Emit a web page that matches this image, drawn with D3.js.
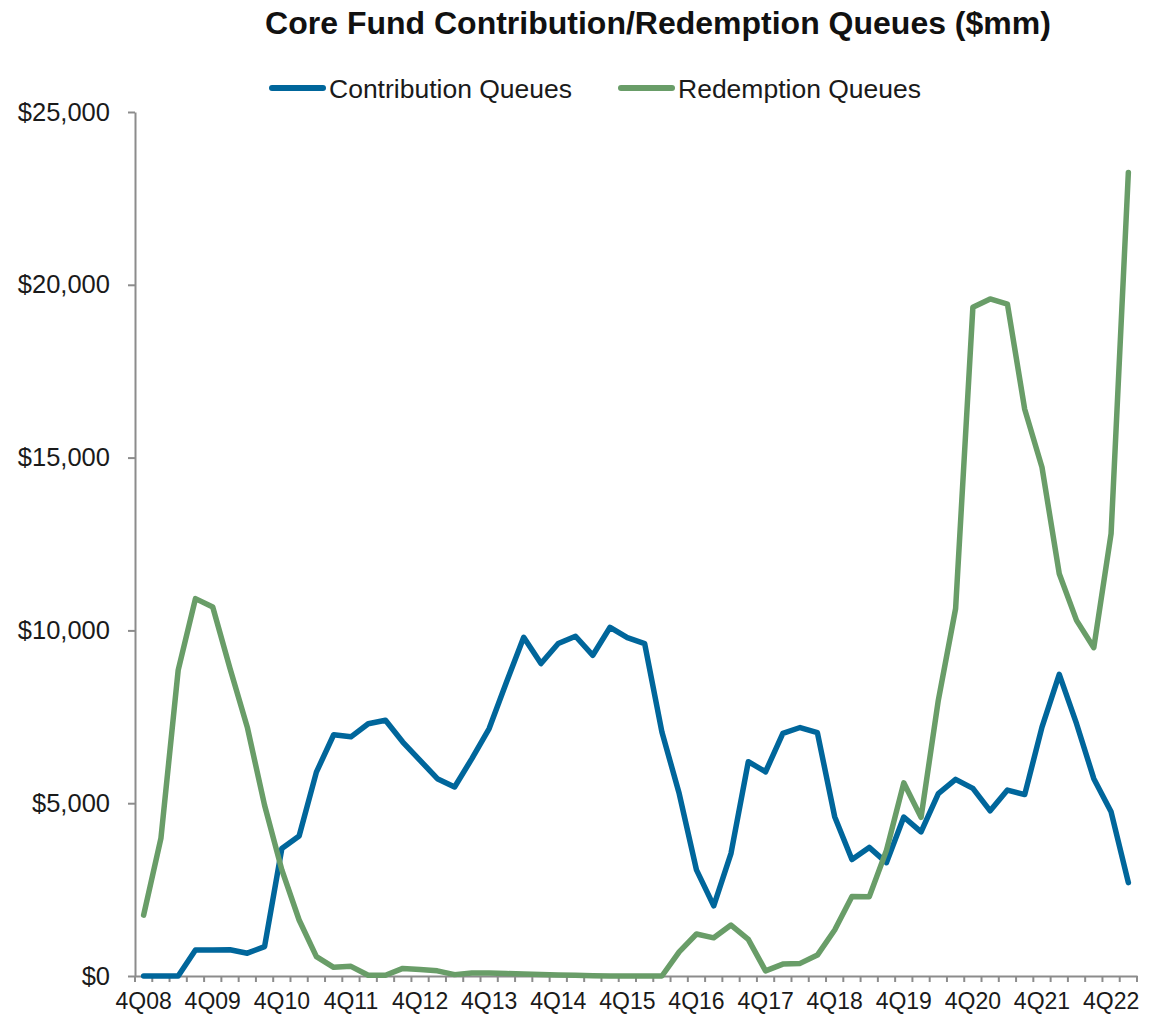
<!DOCTYPE html>
<html lang="en">
<head>
  <meta charset="utf-8">
  <title>Core Fund Contribution/Redemption Queues</title>
  <script src="https://d3js.org/d3.v7.min.js"></script>
  <style>
    body { margin: 0; background: #fff; }
    svg text { font-family: "Liberation Sans", Arial, sans-serif; fill: #1a1a1a; }
  </style>
</head>
<body>
<script>
// quarters 4Q08 .. 1Q23
var quarters = [
  "4Q08",
  "1Q09", "2Q09", "3Q09", "4Q09",
  "1Q10", "2Q10", "3Q10", "4Q10",
  "1Q11", "2Q11", "3Q11", "4Q11",
  "1Q12", "2Q12", "3Q12", "4Q12",
  "1Q13", "2Q13", "3Q13", "4Q13",
  "1Q14", "2Q14", "3Q14", "4Q14",
  "1Q15", "2Q15", "3Q15", "4Q15",
  "1Q16", "2Q16", "3Q16", "4Q16",
  "1Q17", "2Q17", "3Q17", "4Q17",
  "1Q18", "2Q18", "3Q18", "4Q18",
  "1Q19", "2Q19", "3Q19", "4Q19",
  "1Q20", "2Q20", "3Q20", "4Q20",
  "1Q21", "2Q21", "3Q21", "4Q21",
  "1Q22", "2Q22", "3Q22", "4Q22",
  "1Q23"
];

// labelled quarters on the x axis
var tickLabels = ["4Q08", "4Q09", "4Q10", "4Q11", "4Q12", "4Q13", "4Q14", "4Q15",
                  "4Q16", "4Q17", "4Q18", "4Q19", "4Q20", "4Q21", "4Q22"];

// $mm
var contribution = [
  0,
  0, 0, 750, 750,
  760, 660, 850, 3690,
  4050, 5900, 6980, 6920,
  7300, 7400, 6770, 6240,
  5710, 5470, 6290, 7160,
  8500, 9800, 9040, 9620,
  9830, 9280, 10090, 9790,
  9620, 7060, 5280, 3070,
  2030, 3550, 6200, 5910,
  7020, 7190, 7040, 4610,
  3370, 3720, 3280, 4600,
  4170, 5280, 5690, 5430,
  4780, 5380, 5250, 7200,
  8730, 7300, 5710, 4750,
  2700
];

var redemption = [
  1760,
  3980, 8850, 10920, 10680,
  8900, 7200, 4940, 3070,
  1620, 560, 250, 280,
  20, 20, 220, 190,
  150, 40, 90, 90,
  70, 60, 40, 30,
  20, 10, 0, 0,
  0, 0, 700, 1215,
  1105, 1475, 1060, 150,
  345, 365, 605, 1330,
  2300, 2290, 3640, 5590,
  4590, 7980, 10630, 19350,
  19590, 19440, 16400, 14720,
  11640, 10290, 9500, 12800,
  23250
];

var yTicks = [0, 5000, 10000, 15000, 20000, 25000];

var width = 1156,
    height = 1015;

var blue = "#00669b",
    green = "#699d68",
    axisColor = "#8c8c8c";

var svg = d3.select("body").append("svg")
    .attr("width", width)
    .attr("height", height);

var x = d3.scaleBand()
    .domain(quarters)
    .range([135, 1137])
    .padding(0);

var y = d3.scaleLinear()
    .domain([0, 25000])
    .range([976, 112]);

// title
svg.append("text")
    .attr("x", 658)
    .attr("y", 34)
    .attr("text-anchor", "middle")
    .style("font-size", "32px")
    .style("font-weight", "bold")
    .style("fill", "#111")
    .text("Core Fund Contribution/Redemption Queues ($mm)");

// legend
var legend = [
  { name: "Contribution Queues", color: blue, x: 329 },
  { name: "Redemption Queues", color: green, x: 678 }
];

var lg = svg.append("g").selectAll("g")
    .data(legend)
    .enter().append("g");

lg.append("line")
    .attr("x1", function(d) { return d.x - 57; })
    .attr("x2", function(d) { return d.x - 6; })
    .attr("y1", 88)
    .attr("y2", 88)
    .attr("stroke", function(d) { return d.color; })
    .attr("stroke-width", 6)
    .attr("stroke-linecap", "round");

lg.append("text")
    .attr("x", function(d) { return d.x; })
    .attr("y", 97.5)
    .style("font-size", "26.5px")
    .text(function(d) { return d.name; });

// y axis
var yAxis = svg.append("g")
    .attr("transform", "translate(135,0)")
    .call(d3.axisLeft(y)
      .tickValues(yTicks)
      .tickSize(7)
      .tickSizeOuter(0)
      .tickPadding(18)
      .tickFormat(function(d) { return "$" + d3.format(",")(d); }));

yAxis.selectAll("text").style("font-size", "25.5px");

// x axis (labels only, ticks drawn at band edges below)
var xAxis = svg.append("g")
    .attr("transform", "translate(0,976)")
    .call(d3.axisBottom(x)
      .tickValues(tickLabels)
      .tickSize(0)
      .tickSizeOuter(0)
      .tickPadding(17));

xAxis.selectAll("text").style("font-size", "23px");

var edges = d3.range(quarters.length + 1).map(function(i) {
  return x.range()[0] + i * x.bandwidth();
});

svg.append("g").selectAll("line")
    .data(edges)
    .enter().append("line")
    .attr("x1", function(d) { return d; })
    .attr("x2", function(d) { return d; })
    .attr("y1", 976)
    .attr("y2", 982)
    .attr("stroke", axisColor)
    .attr("stroke-width", 2);

svg.selectAll(".domain, .tick line")
    .attr("stroke", axisColor)
    .attr("stroke-width", 2);

// lines
var line = d3.line()
    .x(function(d, i) { return x(quarters[i]) + x.bandwidth() / 2; })
    .y(function(d) { return y(d); });

svg.append("path")
    .datum(contribution)
    .attr("fill", "none")
    .attr("stroke", blue)
    .attr("stroke-width", 5.5)
    .attr("stroke-linejoin", "round")
    .attr("stroke-linecap", "round")
    .attr("d", line);

svg.append("path")
    .datum(redemption)
    .attr("fill", "none")
    .attr("stroke", green)
    .attr("stroke-width", 5.5)
    .attr("stroke-linejoin", "round")
    .attr("stroke-linecap", "round")
    .attr("d", line);
</script>
</body>
</html>
